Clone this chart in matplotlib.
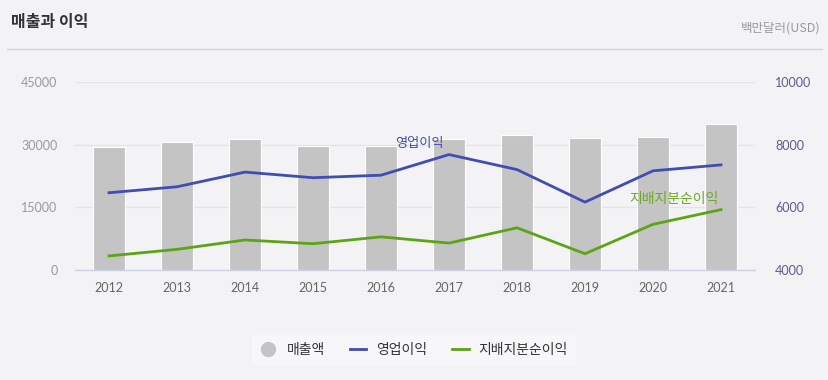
import matplotlib
matplotlib.use("Agg")
import matplotlib.pyplot as plt
from matplotlib.lines import Line2D

plt.rcParams['font.family'] = ['Noto Sans CJK KR', 'DejaVu Sans']

years = ['2012', '2013', '2014', '2015', '2016', '2017', '2018', '2019', '2020', '2021']
revenue = [29500, 30600, 31400, 29800, 29800, 31400, 32400, 31700, 31900, 35000]
operating_income = [6470, 6660, 7130, 6950, 7030, 7690, 7210, 6170, 7170, 7360]
net_income = [4450, 4660, 4960, 4840, 5060, 4860, 5350, 4520, 5460, 5930]
left_ticks = [0, 15000, 30000, 45000]
right_ticks = [4000, 6000, 8000, 10000]

BG = '#f3f3f6'
BAR = '#c4c4c4'
BLUE = '#3f4db4'
GREEN = '#5ba515'

W, H = 829, 380
fig = plt.figure(figsize=(W / 100, H / 100), dpi=100, facecolor=BG)

L, R, B, T = 75, 755, 270, 82.3
ax = fig.add_axes([L / W, 1 - B / H, (R - L) / W, (B - T) / H])
ax.set_facecolor(BG)
x = list(range(len(years)))
ax.bar(x, revenue, width=0.47, color=BAR, edgecolor='white', linewidth=0.8, zorder=2)
ax.set_xlim(-0.5, len(years) - 0.5)
ax.set_ylim(0, 45000)
ax.set_yticks(left_ticks)
ax.set_yticklabels([str(v) for v in left_ticks])
ax.set_xticks(x)
ax.set_xticklabels(years)
ax.grid(axis='y', color='#e4e4e8', linewidth=1)
ax.set_axisbelow(True)
for s in ['top', 'right', 'left']:
    ax.spines[s].set_visible(False)
ax.spines['bottom'].set_color('#c9d2e6')
ax.spines['bottom'].set_linewidth(1)
ax.tick_params(axis='both', length=0)
ax.tick_params(axis='y', pad=12.5, labelsize=9, labelcolor='#9a9a9a')
ax.tick_params(axis='x', pad=9, labelsize=9, labelcolor='#666666')
for lab in ax.get_xticklabels() + ax.get_yticklabels():
    lab.set_family(['Lato', 'DejaVu Sans'])

ax2 = ax.twinx()
ax2.plot(x, operating_income, color=BLUE, linewidth=2, zorder=3)
ax2.plot(x, net_income, color=GREEN, linewidth=2, zorder=3)
ax2.set_ylim(4000, 10000)
ax2.set_yticks(right_ticks)
ax2.set_yticklabels([str(v) for v in right_ticks])
for s in ['top', 'right', 'left', 'bottom']:
    ax2.spines[s].set_visible(False)
ax2.tick_params(axis='y', length=0, pad=14.5, labelsize=9, labelcolor='#5c5a8c')
for lab in ax2.get_yticklabels():
    lab.set_family(['Lato', 'DejaVu Sans'])

ax2.annotate('영업이익', xy=(5, operating_income[5]), xytext=(-21.5, 8.0),
             textcoords='offset points', ha='center', va='center',
             color=BLUE, fontsize=9.5, fontweight='medium')
ax2.annotate('지배지분순이익', xy=(9, net_income[9]), xytext=(-2, 8.0),
             textcoords='offset points', ha='right', va='center',
             color='#6aab1c', fontsize=10, fontweight='medium')

fig.text(11 / W, 1 - 22 / H, '매출과 이익', fontsize=11.5, fontweight='bold',
         color='#333333', ha='left', va='center')
fig.text(821 / W, 1 - 28 / H, '백만달러(USD)', fontsize=9, color='#9a9a9a',
         ha='right', va='center')
fig.add_artist(Line2D([7 / W, 822 / W], [1 - 49 / H, 1 - 49 / H],
                      color='#d4d4d8', linewidth=1))

handles = [
    Line2D([], [], marker='o', linestyle='none', markersize=10,
           markerfacecolor=BAR, markeredgecolor=BAR),
    Line2D([], [], color=BLUE, linewidth=2),
    Line2D([], [], color=GREEN, linewidth=2),
]
leg = fig.legend(handles, ['매출액', '영업이익', '지배지분순이익'], loc='center',
                 bbox_to_anchor=(414 / W, 1 - 350 / H), ncol=3, frameon=True,
                 prop={'size': 10, 'weight': 'medium'},
                 handlelength=1.2, columnspacing=1.8,
                 handletextpad=0.7, borderpad=0.6, fancybox=False)
leg.get_frame().set_facecolor('#f9f9fb')
leg.get_frame().set_edgecolor('none')
for t in leg.get_texts():
    t.set_color('#333333')

fig.savefig('out.png', dpi=100, facecolor=BG)
